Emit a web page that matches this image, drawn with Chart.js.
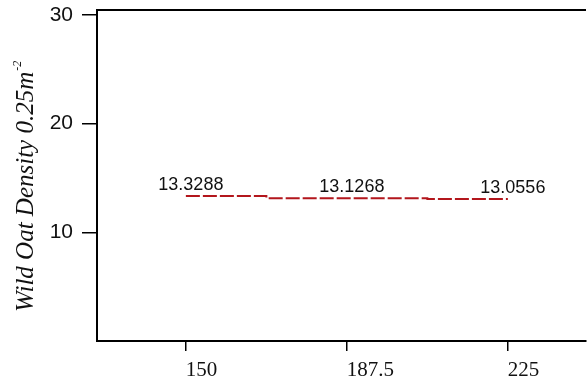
<!DOCTYPE html>
<html lang="en">
<head>
    <meta charset="UTF-8">
    <title>Wild Oat Density</title>
    <script src="https://cdn.jsdelivr.net/npm/chart.js"></script>
    <style>
        html, body {
            margin: 0;
            padding: 0;
            background: #fff;
        }
        .wrap {
            width: 587px;
            height: 381px;
            position: relative;
        }
    </style>
</head>
<body>
    <div class="wrap">
        <canvas id="chart" width="587" height="381"></canvas>
    </div>
    <script>
        // values
        const rates = [150, 187.5, 225];
        const density = [13.3288, 13.1268, 13.0556];
        const xTicks = [150, 187.5, 225];
        const yTicks = [10, 20, 30];
        const yTitle = 'Wild Oat Density 0.25m';
        const yTitleSup = '-2';

        const points = rates.map((r, i) => ({ x: r, y: density[i] }));

        // value labels over each point
        const valueLabels = {
            id: 'valueLabels',
            afterDatasetsDraw(chart) {
                const ctx = chart.ctx;
                const meta = chart.getDatasetMeta(0);
                ctx.save();
                ctx.font = '18px "Liberation Sans", Arial, sans-serif';
                ctx.fillStyle = '#111';
                ctx.textAlign = 'center';
                ctx.textBaseline = 'alphabetic';
                meta.data.forEach((pt, i) => {
                    ctx.fillText(density[i].toFixed(4), pt.x + 5, pt.y - 6);
                });
                ctx.restore();
            }
        };

        // top frame line + rotated italic axis title
        const frame = {
            id: 'frame',
            afterDraw(chart) {
                const { ctx, chartArea } = chart;
                ctx.save();
                ctx.strokeStyle = '#000';
                ctx.lineWidth = 2;
                ctx.beginPath();
                ctx.moveTo(chartArea.left - 1, chartArea.top);
                ctx.lineTo(chartArea.right, chartArea.top);
                ctx.stroke();

                ctx.translate(33, 312);
                ctx.rotate(-Math.PI / 2);
                ctx.fillStyle = '#111';
                ctx.textAlign = 'left';
                ctx.textBaseline = 'alphabetic';
                ctx.font = 'italic 25px "Liberation Serif", "Times New Roman", serif';
                ctx.fillText(yTitle, 0, 0);
                const w = ctx.measureText(yTitle).width;
                ctx.font = 'italic 12px "Liberation Serif", "Times New Roman", serif';
                ctx.fillText(yTitleSup, w + 1, -12);
                ctx.restore();
            }
        };

        const ctx = document.getElementById('chart').getContext('2d');
        new Chart(ctx, {
            type: 'line',
            data: {
                datasets: [{
                    data: points,
                    borderColor: '#b3161c',
                    borderWidth: 2,
                    borderDash: [14, 3],
                    stepped: 'middle',
                    pointRadius: 0,
                    fill: false
                }]
            },
            options: {
                responsive: false,
                animation: false,
                layout: { padding: { left: 0, top: 10, right: 1, bottom: 0 } },
                plugins: {
                    legend: { display: false },
                    tooltip: { enabled: false }
                },
                scales: {
                    x: {
                        type: 'linear',
                        min: 129.3,
                        max: 243.2,
                        afterBuildTicks: (scale) => {
                            scale.ticks = xTicks.map(v => ({ value: v }));
                        },
                        afterFit: (scale) => {
                            scale.height = 40;
                            scale.paddingLeft = 0;
                            scale.paddingRight = 0;
                        },
                        grid: {
                            drawOnChartArea: false,
                            drawTicks: true,
                            tickLength: 10,
                            color: '#000',
                            lineWidth: 1.5
                        },
                        border: { display: true, color: '#000', width: 2 },
                        ticks: {
                            align: 'start',
                            padding: 7,
                            color: '#111',
                            maxRotation: 0,
                            font: { family: '"Liberation Serif", "Times New Roman", serif', size: 21 },
                            callback: (v) => String(v)
                        }
                    },
                    y: {
                        min: 0,
                        max: 30.45,
                        afterBuildTicks: (scale) => {
                            scale.ticks = yTicks.map(v => ({ value: v }));
                        },
                        afterFit: (scale) => {
                            scale.width = 97;
                            scale.paddingTop = 0;
                            scale.paddingBottom = 0;
                        },
                        grid: {
                            drawOnChartArea: false,
                            drawTicks: true,
                            tickLength: 15,
                            color: '#000',
                            lineWidth: 1.5
                        },
                        border: { display: true, color: '#000', width: 2 },
                        ticks: {
                            padding: 9,
                            color: '#111',
                            font: { family: '"Liberation Sans", Arial, sans-serif', size: 21 },
                            callback: (v) => String(v)
                        }
                    }
                }
            },
            plugins: [valueLabels, frame]
        });
    </script>
</body>
</html>
